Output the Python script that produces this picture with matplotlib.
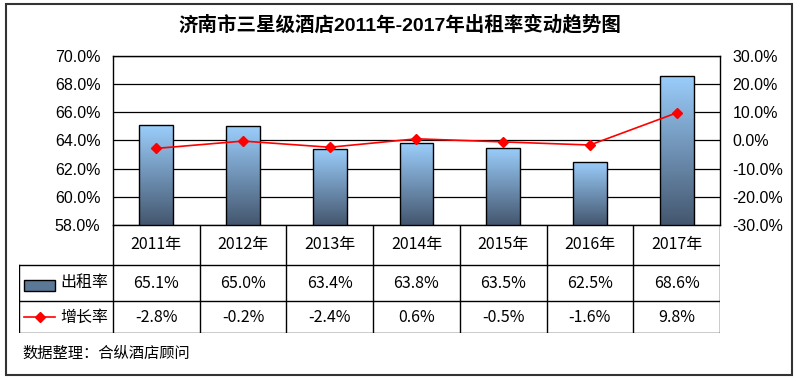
import numpy as np
import matplotlib.pyplot as plt
from matplotlib.patches import Rectangle
from matplotlib.lines import Line2D
from matplotlib.colors import LinearSegmentedColormap

plt.rcParams['font.family'] = ['Noto Sans CJK SC', 'DejaVu Sans']
arial_cjk = ['Liberation Sans', 'Noto Sans CJK SC']

title = '济南市三星级酒店2011年-2017年出租率变动趋势图'
years = ['2011年', '2012年', '2013年', '2014年', '2015年', '2016年', '2017年']
occupancy = [65.1, 65.0, 63.4, 63.8, 63.5, 62.5, 68.6]
growth = [-2.8, -0.2, -2.4, 0.6, -0.5, -1.6, 9.8]
left_ticks = [58, 60, 62, 64, 66, 68, 70]
right_ticks = [-30, -20, -10, 0, 10, 20, 30]
source = '数据整理：合纵酒店顾问'

W, H = 800, 381


def fx(px):
    return px / W


def fy(py):
    return 1 - py / H


fig = plt.figure(figsize=(8, 3.81), dpi=100)

# main plot area
ax = fig.add_axes([fx(113), fy(225), fx(720) - fx(113), fy(56) - fy(225)])
x = np.arange(len(years))
bar_w = 0.39
bars = ax.bar(x, occupancy, width=bar_w, facecolor='none', edgecolor='black',
              linewidth=1.0, zorder=3)

cmap = LinearSegmentedColormap.from_list('barfill', ['#44566E', '#9BCEFC'])
grad = np.linspace(0, 1, 256).reshape(-1, 1)
for b in bars:
    im = ax.imshow(grad, cmap=cmap, origin='lower', aspect='auto',
                   extent=(b.get_x(), b.get_x() + b.get_width(), 58, b.get_height()),
                   zorder=2.5)
    im.set_clip_path(b)

ax.set_xlim(-0.5, 6.5)
ax.set_ylim(58, 70)
ax.set_xticks([])
ax.set_yticks(left_ticks)
ax.set_yticklabels([f'{v:.1f}%' for v in left_ticks], fontsize=11.5, family=arial_cjk)
ax.tick_params(axis='y', length=0, pad=9)
ax.yaxis.grid(True, color='black', linewidth=0.9)
ax.set_axisbelow(True)
for s in ax.spines.values():
    s.set_color('black')
    s.set_linewidth(1.0)

ax2 = ax.twinx()
ax2.plot(x, growth, color='red', marker='D', markersize=5, linewidth=1.2, zorder=4)
ax2.set_ylim(-30, 30)
ax2.set_yticks(right_ticks)
ax2.set_yticklabels([f'{v:.1f}%' for v in right_ticks], fontsize=11.5, family=arial_cjk)
ax2.tick_params(axis='y', length=0, pad=9)
for s in ax2.spines.values():
    s.set_visible(False)

# data table below
col_px = (720 - 113) / len(years)
xl = -0.5 - (113 - 19) / col_px
tax = fig.add_axes([fx(19), fy(333), fx(720) - fx(19), fy(225) - fy(333)])
tax.set_xlim(xl, 6.5)
tax.set_ylim(0, 108)
tax.axis('off')

lc = dict(color='black', linewidth=1.0)
for i in range(len(years) + 1):
    tax.plot([-0.5 + i, -0.5 + i], [0, 108], **lc)
tax.plot([xl, xl], [0, 68], **lc)
for yy in [0, 32, 68]:
    tax.plot([xl, 6.5], [yy, yy], **lc)

for i in range(len(years)):
    tax.text(i, 88, years[i], ha='center', va='center', fontsize=11.5)
    tax.text(i, 50, f'{occupancy[i]:.1f}%', ha='center', va='center', fontsize=11.5)
    tax.text(i, 16, f'{growth[i]:.1f}%', ha='center', va='center', fontsize=11.5)

# legend keys inside table
kx0 = xl + (24 - 19) / col_px
kx1 = xl + (55 - 19) / col_px
tax.add_patch(Rectangle((kx0, 42), kx1 - kx0, 11, facecolor='#5C7897',
                        edgecolor='black', linewidth=1.0))
tax.add_line(Line2D([kx0, kx1], [16, 16], color='red', linewidth=1.2))
tax.add_line(Line2D([(kx0 + kx1) / 2], [16], color='red', marker='D', markersize=5))
tx = xl + (60 - 19) / col_px
tax.text(tx, 50, '出租率', ha='left', va='center', fontsize=11.5)
tax.text(tx, 16, '增长率', ha='left', va='center', fontsize=11.5)

fig.text(0.5, fy(25), title, ha='center', va='center', fontsize=14,
         fontweight='bold', family=arial_cjk)
fig.text(fx(22), fy(353), source, ha='left', va='center', fontsize=11)

fig.patches.append(Rectangle((fx(6), fy(375)), fx(792) - fx(6), fy(4) - fy(375),
                             transform=fig.transFigure, fill=False,
                             edgecolor='#333333', linewidth=1.5))

fig.savefig('out.png', dpi=100)
